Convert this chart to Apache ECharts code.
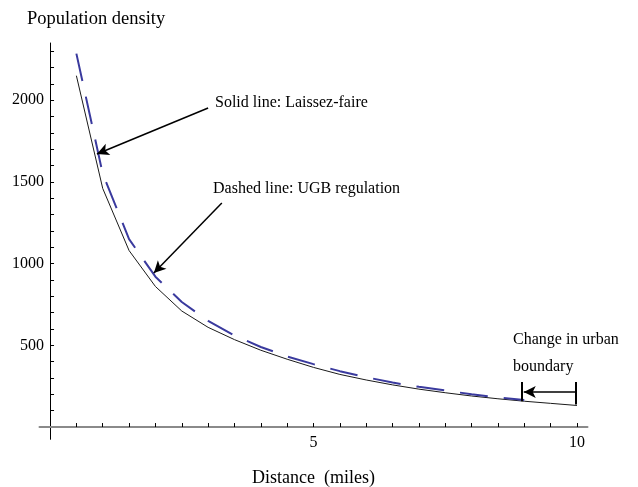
<!DOCTYPE html>
<html>
<head>
<meta charset="utf-8">
<script src="https://cdn.jsdelivr.net/npm/echarts@6/dist/echarts.min.js"></script>
<style>
  html, body { margin: 0; padding: 0; background: #fff; }
  #chart { width: 638px; height: 487px; }
</style>
</head>
<body>
<div id="chart"></div>
<script>
// distance from centre (miles)
const distance = [0.5, 1, 1.5, 2, 2.5, 3, 3.5, 4, 4.5, 5, 5.5, 6, 6.5, 7, 7.5, 8, 8.5, 9, 9.5, 10];
// laissez-faire density, out to 10 miles
const laissezFaire = [2150, 1460, 1080, 860, 710, 610, 535, 470, 415, 365, 322, 288, 258, 232, 210, 190, 173, 158, 145, 132];
// UGB regulation density, boundary pulled in to 9 miles
const ugb = [2285, 1550, 1150, 920, 765, 650, 560, 490, 432, 385, 342, 305, 272, 246, 224, 200, 182, 165];

const xLabels = [5, 10];
const yLabels = [500, 1000, 1500, 2000];
const xTicks = [0.5, 1, 1.5, 2, 2.5, 3, 3.5, 4, 4.5, 5, 5.5, 6, 6.5, 7, 7.5, 8, 8.5, 9, 9.5, 10];
const yTicks = [100, 200, 300, 400, 500, 600, 700, 800, 900, 1000, 1100, 1200, 1300, 1400,
  1500, 1600, 1700, 1800, 1900, 2000, 2100, 2200, 2300];

const font = 'Liberation Serif';
const chart = echarts.init(document.getElementById('chart'), null, { renderer: 'canvas' });

const arrowLine = { color: '#000', width: 1.5, type: 'solid' };
const barLine = { color: '#000', width: 2, type: 'solid' };

const option = {
  animation: false,
  grid: { left: 39.5, right: 50.5, top: 43, bottom: 47.7, outerBoundsMode: 'none', containLabel: false },
  xAxis: {
    type: 'value',
    min: -0.2,
    max: 10.2,
    name: 'Distance  (miles)',
    nameLocation: 'middle',
    nameGap: 30,
    nameTextStyle: { fontFamily: font, fontSize: 18, color: '#000' },
    axisLine: { onZero: true, lineStyle: { color: '#8a8a8a', width: 2 } },
    axisTick: { show: true, inside: true, length: 4, customValues: xTicks, lineStyle: { color: '#000' } },
    // labels sit off the grid edge, not the zero line, hence the negative margin
    axisLabel: { customValues: xLabels, fontFamily: font, fontSize: 16, color: '#000', margin: -4.5 },
    splitLine: { show: false }
  },
  yAxis: {
    type: 'value',
    min: -75,
    max: 2350,
    axisLine: { show: true, onZero: true, lineStyle: { color: '#000', width: 1 } },
    axisTick: { show: true, inside: true, length: 4, customValues: yTicks, lineStyle: { color: '#000' } },
    axisLabel: {
      customValues: yLabels,
      formatter: (v) => String(v),
      fontFamily: font, fontSize: 16, color: '#000', margin: -4.5
    },
    splitLine: { show: false }
  },
  graphic: [
    { type: 'text', left: 27, top: 10, style: { text: 'Population density', font: '18.5px "Liberation Serif"', fill: '#000' } },
    { type: 'text', left: 215, top: 95, style: { text: 'Solid line: Laissez-faire', font: '16px "Liberation Serif"', fill: '#000' } },
    { type: 'text', left: 213, top: 181, style: { text: 'Dashed line: UGB regulation', font: '16px "Liberation Serif"', fill: '#000' } },
    { type: 'text', left: 513, top: 326, style: { text: 'Change in urban\nboundary', font: '16px "Liberation Serif"', fill: '#000', lineHeight: 27 } }
  ],
  series: [
    {
      name: 'Laissez-faire',
      type: 'line',
      data: laissezFaire.map((v, i) => [distance[i], v]),
      showSymbol: false,
      lineStyle: { color: '#1a1a1a', width: 1 },
      z: 2,
      markLine: {
        silent: true,
        animation: false,
        label: { show: false },
        symbol: ['none', 'arrow'],
        symbolSize: [9, 12],
        data: [
          [{ coord: [3.0, 1952], lineStyle: arrowLine }, { coord: [0.89, 1671] }],
          [{ coord: [3.26, 1371], lineStyle: arrowLine }, { coord: [1.97, 942] }],
          [{ coord: [9.97, 214], lineStyle: arrowLine }, { coord: [8.99, 214] }]
        ]
      }
    },
    {
      name: 'UGB regulation',
      type: 'line',
      data: ugb.map((v, i) => [distance[i], v]),
      showSymbol: false,
      lineStyle: { color: '#3a3a9e', width: 2, type: [28, 16] },
      z: 3,
      markLine: {
        silent: true,
        animation: false,
        label: { show: false },
        symbol: ['none', 'none'],
        data: [
          [{ coord: [8.96, 275], lineStyle: barLine }, { coord: [8.96, 158] }],
          [{ coord: [9.97, 275], lineStyle: barLine }, { coord: [9.97, 138] }]
        ]
      }
    }
  ]
};

chart.setOption(option);
</script>
</body>
</html>
